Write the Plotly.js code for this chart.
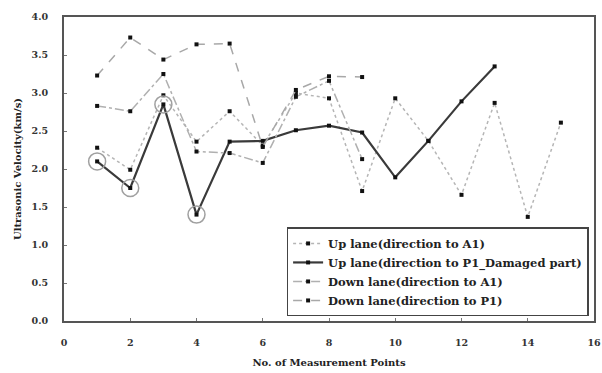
<!DOCTYPE html>
<html><head><meta charset="utf-8">
<script src="https://cdn.plot.ly/plotly-3.0.1.min.js"></script>
<style>html,body{margin:0;padding:0;background:#fff}#c{width:602px;height:373px}</style>
</head><body><div id="c"></div>
<script>
const upA1X = [1,2,3,4,5,6,7,8,9,10,11,12,13,14,15];
const upA1Y = [2.28,1.99,2.97,2.36,2.76,2.31,3.00,2.93,1.71,2.93,2.37,1.66,2.87,1.37,2.61];
const upP1X = [1,2,3,4,5,6,7,8,9,10,11,12,13];
const upP1Y = [2.10,1.75,2.85,1.40,2.36,2.37,2.51,2.57,2.48,1.89,2.37,2.89,3.35];
const downA1X = [1,2,3,4,5,6,7,8,9];
const downA1Y = [2.83,2.76,3.25,2.23,2.21,2.08,2.95,3.16,2.13];
const downP1X = [1,2,3,4,5,6,7,8,9];
const downP1Y = [3.23,3.73,3.44,3.64,3.65,2.29,3.04,3.22,3.21];
const circledIdx = [0,1,2,3];
const names = ["Up lane(direction to A1)","Up lane(direction to P1_Damaged part)","Down lane(direction to A1)","Down lane(direction to P1)"];
const yTicks = [0,0.5,1,1.5,2,2.5,3,3.5,4];
const xTicks = [0,2,4,6,8,10,12,14,16];

const mk = {symbol:'square', size:4, color:'#111'};
const traces = [
  {x:upA1X, y:upA1Y, name:names[0], mode:'lines+markers', line:{color:'#b5b5b5', width:1.5, dash:'dot'}, marker:mk},
  {x:upP1X, y:upP1Y, name:names[1], mode:'lines+markers', line:{color:'#3a3a3a', width:2.2}, marker:mk},
  {x:downA1X, y:downA1Y, name:names[2], mode:'lines+markers', line:{color:'#b0b0b0', width:1.5, dash:'dashdot'}, marker:mk},
  {x:downP1X, y:downP1Y, name:names[3], mode:'lines+markers', line:{color:'#a8a8a8', width:1.5, dash:'dash'}, marker:mk},
  {x:circledIdx.map(i=>upP1X[i]), y:circledIdx.map(i=>upP1Y[i]), mode:'markers', showlegend:false,
   marker:{symbol:'circle-open', size:17, color:'#a0a0a0', line:{width:1.5, color:'#a0a0a0'}}}
];
const fam = 'DejaVu Serif, serif';
const fnt = {family:fam, size:10, color:'#222', weight:'bold'};
const layout = {
  width:602, height:373,
  margin:{l:64, r:8, t:17, b:52},
  paper_bgcolor:'#fff', plot_bgcolor:'#fff',
  font:fnt,
  showlegend:true,
  legend:{x:0.42, y:0.015, xanchor:'left', yanchor:'bottom', bgcolor:'#fff', bordercolor:'#444', borderwidth:1.5,
    font:{family:fam, size:11.5, color:'#222', weight:'bold'}, tracegroupgap:0, itemwidth:30},
  xaxis:{range:[0,16], tickvals:xTicks, ticktext:xTicks.map(String), showgrid:false, zeroline:false,
    showline:true, linecolor:'#555', linewidth:2, mirror:true, ticks:'inside', ticklen:3, tickcolor:'#777',
    ticklabelstandoff:12, tickfont:{family:fam, size:9.5, color:'#333', weight:'bold'},
    title:{text:'No. of Measurement Points', standoff:12, font:{family:fam, size:10, color:'#222', weight:'bold'}}},
  yaxis:{range:[0,4], tickvals:yTicks, ticktext:yTicks.map(v=>v.toFixed(1)), showgrid:false, zeroline:false,
    showline:true, linecolor:'#555', linewidth:2, mirror:true, ticks:'inside', ticklen:3, tickcolor:'#777',
    ticklabelstandoff:12, tickfont:{family:fam, size:9.5, color:'#333', weight:'bold'},
    title:{text:'Ultrasonic Velocity(km/s)', standoff:8, font:{family:fam, size:10, color:'#222', weight:'bold'}}}
};
Plotly.newPlot('c', traces, layout, {displayModeBar:false, staticPlot:true});
</script></body></html>
